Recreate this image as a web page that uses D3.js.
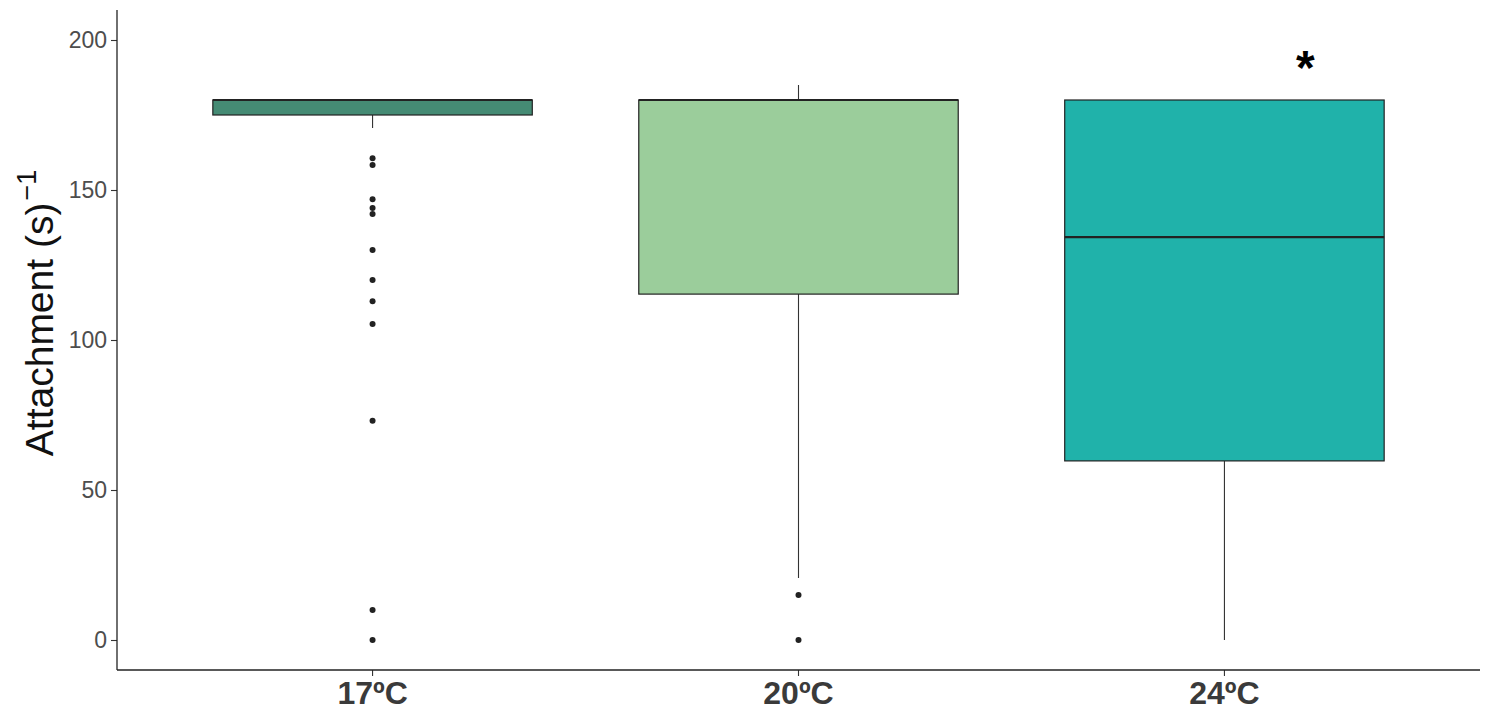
<!DOCTYPE html>
<html><head><meta charset="utf-8">
<script src="https://cdn.jsdelivr.net/npm/d3@7"></script>
<style>body{margin:0;background:#fff}svg{display:block}</style>
</head><body>
<script>
const categories = ["17ºC", "20ºC", "24ºC"];
const colors = ["#458B74", "#9BCD9B", "#20B2AA"];
const q1 = [175, 115.3, 59.7];
const median = [180, 180, 134.3];
const q3 = [180, 180, 180];
const whiskerLow = [170.7, 20.7, 0];
const whiskerHigh = [180, 185, 180];
const outliers = [
  [160.6, 158.3, 146.9, 144, 142, 130, 120, 112.9, 105.3, 73.1, 10, 0],
  [15, 0],
  []
];
const yTicks = [0, 50, 100, 150, 200];
const annotations = [{cat: "24ºC", value: 193, text: "*"}];

const W = 1486, H = 712;
const m = {left: 117, right: 6, top: 10, bottom: 42};
const FONT = "Liberation Sans, Arial, sans-serif";
const svg = d3.select("body").append("svg").attr("width", W).attr("height", H);

const x = d3.scaleBand().domain(categories).range([m.left, W - m.right]).paddingInner(0).paddingOuter(0.1);
const y = d3.scaleLinear().domain([-10, 210]).range([H - m.bottom, m.top]);
const bw = x.bandwidth() * 0.75;
const cx = c => x(c) + x.bandwidth() / 2;

const g = svg.append("g");
categories.forEach((c, i) => {
  const xc = cx(c);
  g.append("line").attr("x1", xc).attr("x2", xc).attr("y1", y(q3[i])).attr("y2", y(whiskerHigh[i]))
    .attr("stroke", "#333").attr("stroke-width", 1.1);
  g.append("line").attr("x1", xc).attr("x2", xc).attr("y1", y(q1[i])).attr("y2", y(whiskerLow[i]))
    .attr("stroke", "#333").attr("stroke-width", 1.1);
  g.append("rect").attr("x", xc - bw / 2).attr("width", bw)
    .attr("y", y(q3[i])).attr("height", y(q1[i]) - y(q3[i]))
    .attr("fill", colors[i]).attr("stroke", "#222").attr("stroke-width", 1.2);
  g.append("line").attr("x1", xc - bw / 2).attr("x2", xc + bw / 2).attr("y1", y(median[i])).attr("y2", y(median[i]))
    .attr("stroke", "#222").attr("stroke-width", 2.2);
  g.selectAll(null).data(outliers[i]).enter().append("circle")
    .attr("cx", xc).attr("cy", d => y(d)).attr("r", 3).attr("fill", "#222");
});

annotations.forEach(a => {
  svg.append("text").attr("x", cx(a.cat) + 81).attr("y", y(a.value) + 23)
    .attr("text-anchor", "middle").attr("font-family", FONT).attr("font-weight", "bold")
    .attr("font-size", 48).attr("fill", "#000").text(a.text);
});

const yAxis = svg.append("g").attr("transform", `translate(${m.left},0)`)
  .call(d3.axisLeft(y).tickValues(yTicks).tickSize(6).tickPadding(4));
yAxis.select(".domain").remove();
yAxis.selectAll(".tick line").attr("stroke", "#333").attr("stroke-width", 1.1);
yAxis.selectAll(".tick text").attr("fill", "#4d4d4d").attr("font-size", 23)
  .attr("font-family", FONT);

const xAxis = svg.append("g").attr("transform", `translate(0,${H - m.bottom})`)
  .call(d3.axisBottom(x).tickSize(6).tickPadding(5));
xAxis.select(".domain").remove();
xAxis.selectAll(".tick line").attr("stroke", "#333").attr("stroke-width", 1.1);
xAxis.selectAll(".tick text").attr("fill", "#3a3a3a").attr("font-size", 32).attr("font-weight", "bold")
  .attr("font-family", FONT);

svg.append("line").attr("x1", m.left).attr("x2", m.left).attr("y1", m.top).attr("y2", H - m.bottom)
  .attr("stroke", "#222").attr("stroke-width", 1.3);
svg.append("line").attr("x1", m.left).attr("x2", W - m.right).attr("y1", H - m.bottom).attr("y2", H - m.bottom)
  .attr("stroke", "#222").attr("stroke-width", 1.3);

const yt = svg.append("text").attr("transform", `translate(53,313) rotate(-90)`)
  .attr("text-anchor", "middle").attr("font-family", FONT)
  .attr("font-size", 39).attr("fill", "#111");
yt.append("tspan").text("Attachment (s)");
yt.append("tspan").attr("dx", 2).attr("dy", -17).attr("font-size", 27).text("\u22121");
</script>
</body></html>
